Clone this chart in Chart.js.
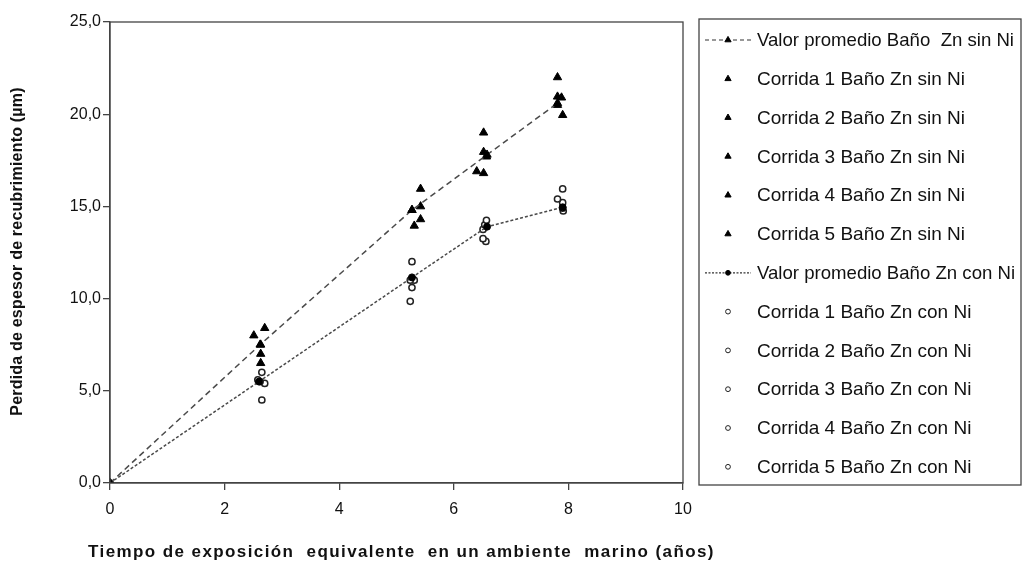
<!DOCTYPE html>
<html>
<head>
<meta charset="utf-8">
<script src="https://cdn.jsdelivr.net/npm/chart.js@4.4.1/dist/chart.umd.min.js"></script>
<style>
  html, body { margin: 0; padding: 0; background: #fff; }
  canvas { display: block; }
</style>
</head>
<body>
<canvas id="espesorChart" width="1023" height="571"></canvas>
<script>
// promedio de las 5 corridas
const avgSinNiX = [0, 2.62, 5.27, 6.58, 7.81];
const avgSinNiY = [0, 7.5, 14.8, 17.8, 20.6];
const avgConNiX = [0, 2.6, 5.27, 6.58, 7.9];
const avgConNiY = [0, 5.5, 11.15, 13.9, 14.95];

// corridas 1..5, baño Zn sin Ni
const sinNiX = [
  [2.70, 5.42, 6.52, 7.81],
  [2.51, 5.27, 6.52, 7.81],
  [2.63, 5.42, 6.57, 7.88],
  [2.63, 5.42, 6.40, 7.81],
  [2.63, 5.31, 6.52, 7.90]
];
const sinNiY = [
  [8.4, 15.95, 19.0, 22.0],
  [8.0, 14.8, 17.95, 20.95],
  [7.5, 15.0, 17.7, 20.9],
  [7.0, 14.3, 16.9, 20.5],
  [6.5, 13.95, 16.8, 19.95]
];

// corridas 1..5, baño Zn con Ni
const conNiX = [
  [2.65, 5.27, 6.57, 7.90],
  [2.58, 5.24, 6.54, 7.81],
  [2.62, 5.31, 6.51, 7.90],
  [2.70, 5.27, 6.51, 7.90],
  [2.65, 5.24, 6.56, 7.91]
];
const conNiY = [
  [6.0, 12.0, 14.25, 15.95],
  [5.6, 11.0, 14.0, 15.4],
  [5.5, 11.0, 13.75, 15.2],
  [5.4, 10.6, 13.25, 14.9],
  [4.5, 9.85, 13.1, 14.75]
];

const xTicks = [0, 2, 4, 6, 8, 10];
const yTicks = [0, 5, 10, 15, 20, 25];

const xTitle = 'Tiempo de exposición  equivalente  en un ambiente  marino (años)';
const yTitle = 'Perdida de espesor de recubrimiento (µm)';

const FONT = '"Liberation Sans", Arial, sans-serif';
const INK = '#111';

function toPoints(xs, ys) {
  return xs.map((x, i) => ({ x: x, y: ys[i] }));
}

const datasets = [];
datasets.push({
  label: 'Valor promedio Baño  Zn sin Ni',
  data: toPoints(avgSinNiX, avgSinNiY),
  showLine: true,
  borderColor: '#4a4a4a',
  borderWidth: 1.5,
  borderDash: [6, 4],
  pointStyle: 'triangle',
  pointRadius: 4.8,
  pointBackgroundColor: '#000',
  pointBorderColor: '#000',
  pointBorderWidth: 1
});
sinNiY.forEach((ys, i) => {
  datasets.push({
    label: `Corrida ${i + 1} Baño Zn sin Ni`,
    data: toPoints(sinNiX[i], ys),
    showLine: false,
    pointStyle: 'triangle',
    pointRadius: 4.8,
    pointBackgroundColor: '#000',
    pointBorderColor: '#000',
    pointBorderWidth: 1
  });
});
datasets.push({
  label: 'Valor promedio Baño Zn con Ni',
  data: toPoints(avgConNiX, avgConNiY),
  showLine: true,
  borderColor: '#4a4a4a',
  borderWidth: 1.5,
  borderDash: [3, 2],
  pointStyle: 'circle',
  pointRadius: 3.5,
  pointBackgroundColor: '#000',
  pointBorderColor: '#000',
  pointBorderWidth: 1
});
conNiY.forEach((ys, i) => {
  datasets.push({
    label: `Corrida ${i + 1} Baño Zn con Ni`,
    data: toPoints(conNiX[i], ys),
    showLine: false,
    pointStyle: 'circle',
    pointRadius: 3.1,
    pointBackgroundColor: '#fff',
    pointBorderColor: '#222',
    pointBorderWidth: 1.5
  });
});

function marker(ctx, style, x, y, r, fill, stroke, lw) {
  ctx.beginPath();
  if (style === 'triangle') {
    for (let k = 0; k < 3; k++) {
      const a = k * 2 * Math.PI / 3;
      const px = x + Math.sin(a) * r, py = y - Math.cos(a) * r;
      k ? ctx.lineTo(px, py) : ctx.moveTo(px, py);
    }
    ctx.closePath();
  } else {
    ctx.arc(x, y, r, 0, Math.PI * 2);
  }
  ctx.fillStyle = fill;
  ctx.fill();
  ctx.lineWidth = lw;
  ctx.strokeStyle = stroke;
  ctx.stroke();
}

// marco del area, titulos de ejes y leyenda en recuadro
const framePlugin = {
  id: 'framePlugin',
  afterDraw(chart) {
    const ctx = chart.ctx;
    const a = chart.chartArea;
    ctx.save();
    ctx.strokeStyle = '#444';
    ctx.lineWidth = 1.3;
    ctx.strokeRect(a.left, a.top, a.right - a.left, a.bottom - a.top);

    // titulos
    ctx.fillStyle = INK;
    ctx.font = 'bold 17px ' + FONT;
    ctx.textAlign = 'center';
    ctx.textBaseline = 'middle';
    ctx.letterSpacing = '1.4px';
    ctx.fillText(xTitle, (a.left + a.right) / 2 + 5, 552);
    ctx.save();
    ctx.translate(18, (a.top + a.bottom) / 2 - 1);
    ctx.rotate(-Math.PI / 2);
    ctx.font = 'bold 16px ' + FONT;
    ctx.letterSpacing = '0.2px';
    ctx.fillText(yTitle, 0, 0);
    ctx.restore();
    ctx.letterSpacing = '0px';

    // leyenda
    const box = { left: 699, top: 19, right: 1021, bottom: 485 };
    ctx.strokeStyle = '#444';
    ctx.lineWidth = 1.3;
    ctx.strokeRect(box.left, box.top, box.right - box.left, box.bottom - box.top);
    ctx.textAlign = 'left';
    chart.data.datasets.forEach((ds, i) => {
      const y = 40 + i * 38.8;
      const mx = 728;
      if (ds.showLine) {
        ctx.save();
        ctx.strokeStyle = '#333';
        ctx.lineWidth = 1.2;
        ctx.setLineDash(ds.borderDash[0] > 4 ? [4, 3] : [2, 1.5]);
        ctx.beginPath();
        ctx.moveTo(705, y);
        ctx.lineTo(751, y);
        ctx.stroke();
        ctx.restore();
      }
      const r = ds.pointStyle === 'triangle' ? 3.6 : 2.4;
      marker(ctx, ds.pointStyle, mx, y, r, ds.pointBackgroundColor, ds.pointBorderColor, 1);
      ctx.fillStyle = INK;
      ctx.font = (ds.showLine ? '18.6px ' : '19px ') + FONT;
      ctx.fillText(ds.label, 757, y + 1);
    });
    ctx.restore();
  }
};

const ctx = document.getElementById('espesorChart').getContext('2d');
new Chart(ctx, {
  type: 'scatter',
  data: { datasets: datasets },
  options: {
    responsive: false,
    animation: false,
    layout: { padding: { top: 22, right: 340, left: 0, bottom: 0 } },
    plugins: { legend: { display: false }, tooltip: { enabled: false } },
    scales: {
      x: {
        type: 'linear',
        min: 0,
        max: 10,
        afterBuildTicks: s => { s.ticks = xTicks.map(v => ({ value: v })); },
        ticks: { color: INK, font: { family: FONT, size: 16 }, padding: 10 },
        grid: { drawOnChartArea: false, tickLength: 7, color: '#444', lineWidth: 1.3 },
        border: { color: '#444', width: 1.3 },
        afterFit: s => { s.height = 88; }
      },
      y: {
        min: 0,
        max: 25,
        afterBuildTicks: s => { s.ticks = yTicks.map(v => ({ value: v })); },
        ticks: {
          color: INK,
          font: { family: FONT, size: 16 },
          padding: 2,
          callback: v => v.toFixed(1).replace('.', ',')
        },
        grid: { drawOnChartArea: false, tickLength: 7, color: '#444', lineWidth: 1.3 },
        border: { color: '#444', width: 1.3 },
        afterFit: s => { s.width = 110; }
      }
    }
  },
  plugins: [framePlugin]
});
</script>
</body>
</html>
